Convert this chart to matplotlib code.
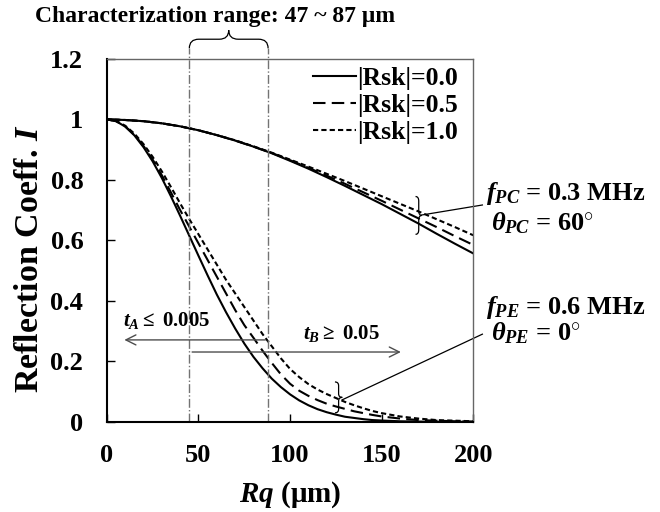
"""Reflection coefficient vs. Rq for two transducer settings."""

import matplotlib

matplotlib.use("Agg")
import matplotlib.pyplot as plt
from matplotlib.patches import PathPatch
from matplotlib.path import Path

plt.rcParams["font.family"] = ["Liberation Serif", "DejaVu Serif"]
plt.rcParams["font.weight"] = "bold"
plt.rcParams["axes.labelweight"] = "bold"
plt.rcParams["mathtext.fontset"] = "custom"
plt.rcParams["mathtext.rm"] = "Liberation Serif:bold"
plt.rcParams["mathtext.it"] = "Liberation Serif:italic:bold"
plt.rcParams["mathtext.bf"] = "Liberation Serif:bold"

# PC (f = 0.3 MHz, theta = 60 deg) curves, read every 10 um
rq_pc = [0, 10, 20, 30, 40, 50, 60, 70, 80, 90, 100,
         110, 120, 130, 140, 150, 160, 170, 180, 190, 200]
pc_rsk00 = [1.0, 0.998, 0.994, 0.987, 0.977, 0.964, 0.948, 0.930, 0.910, 0.888, 0.863,
            0.837, 0.809, 0.780, 0.750, 0.720, 0.688, 0.656, 0.622, 0.589, 0.557]
pc_rsk05 = [1.0, 0.998, 0.994, 0.987, 0.977, 0.964, 0.948, 0.930, 0.910, 0.889, 0.865,
            0.840, 0.814, 0.787, 0.759, 0.731, 0.702, 0.673, 0.644, 0.614, 0.585]
pc_rsk10 = [1.0, 0.998, 0.994, 0.987, 0.977, 0.964, 0.948, 0.931, 0.911, 0.890, 0.867,
            0.844, 0.820, 0.796, 0.771, 0.746, 0.721, 0.696, 0.670, 0.644, 0.617]

# PE (f = 0.6 MHz, theta = 0 deg) curves, read every 5 um up to 150
rq_pe = [0, 5, 10, 15, 20, 25, 30, 35, 40, 45, 50, 55, 60, 65, 70, 75, 80, 85, 90, 95,
         100, 105, 110, 115, 120, 125, 130, 135, 140, 145, 150, 160, 170, 180, 190, 200]
pe_rsk00 = [1.0, 0.994, 0.976, 0.947, 0.908, 0.861, 0.806, 0.745, 0.681, 0.615,
            0.549, 0.484, 0.421, 0.363, 0.309, 0.259, 0.215, 0.177, 0.143, 0.115,
            0.091, 0.071, 0.055, 0.042, 0.032, 0.024, 0.017, 0.013, 0.009, 0.006,
            0.0045, 0.002, 0.001, 0.0004, 0.0002, 0.0001]
pe_rsk05 = [1.0, 0.994, 0.977, 0.949, 0.912, 0.867, 0.815, 0.758, 0.700, 0.645,
            0.590, 0.535, 0.480, 0.425, 0.370, 0.320, 0.278, 0.235, 0.195, 0.157,
            0.126, 0.103, 0.086, 0.072, 0.060, 0.051, 0.043, 0.035, 0.029, 0.023,
            0.018, 0.011, 0.006, 0.004, 0.002, 0.001]
pe_rsk10 = [1.0, 0.995, 0.979, 0.953, 0.918, 0.876, 0.828, 0.776, 0.722, 0.670,
            0.620, 0.570, 0.520, 0.470, 0.425, 0.380, 0.335, 0.290, 0.250, 0.210,
            0.175, 0.148, 0.125, 0.107, 0.092, 0.079, 0.066, 0.055, 0.045, 0.036,
            0.029, 0.018, 0.011, 0.006, 0.004, 0.002]

rsk_labels = ["|Rsk|=0.0", "|Rsk|=0.5", "|Rsk|=1.0"]
range_lo, range_hi = 45, 88

x_ticks = [0, 50, 100, 150, 200]
y_ticks = [0, 0.2, 0.4, 0.6, 0.8, 1.0, 1.2]
y_tick_labels = ["0", "0.2", "0.4", "0.6", "0.8", "1", "1.2"]

styles = [
    {"linestyle": "-"},
    {"linestyle": (0, (6, 3))},
    {"linestyle": (0, (2.5, 1.5))},
]


def brace(ax, x0, x1, y0, y1, vertical=False):
    """Curly brace; horizontal one points up, vertical one points right."""
    if vertical:
        xm, ym, w = (x0 + x1) / 2, (y0 + y1) / 2, (y1 - y0) * 0.12
        verts = [(x0, y0), (xm, y0), (xm, y0 + w), (xm, ym - w), (xm, ym), (x1, ym),
                 (xm, ym), (xm, ym + w), (xm, y1 - w), (xm, y1), (x0, y1)]
    else:
        xm, ym, w = (x0 + x1) / 2, (y0 + y1) / 2, (x1 - x0) * 0.12
        verts = [(x0, y0), (x0, ym), (x0 + w, ym), (xm - w, ym), (xm, ym), (xm, y1),
                 (xm, ym), (xm + w, ym), (x1 - w, ym), (x1, ym), (x1, y0)]
    codes = [Path.MOVETO, Path.CURVE3, Path.CURVE3, Path.LINETO, Path.CURVE3, Path.CURVE3,
             Path.CURVE3, Path.CURVE3, Path.LINETO, Path.CURVE3, Path.CURVE3]
    ax.add_patch(PathPatch(Path(verts, codes), fill=False, lw=0.9, color="black",
                           clip_on=False))


fig = plt.figure(figsize=(6.6, 5.12), dpi=100)
ax = fig.add_axes([0.162, 0.176, 0.555, 0.709])

for vals, lab, st in zip([pc_rsk00, pc_rsk05, pc_rsk10], rsk_labels, styles):
    ax.plot(rq_pc, vals, color="black", lw=1.5, label=lab, **st)
for vals, st in zip([pe_rsk00, pe_rsk05, pe_rsk10], styles):
    ax.plot(rq_pe, vals, color="black", lw=1.5, **st)

ax.set_xlim(0, 200)
ax.set_ylim(0, 1.2)
ax.set_xticks(x_ticks)
ax.set_yticks(y_ticks)
ax.set_yticklabels(y_tick_labels)
ax.tick_params(direction="in", length=6, width=1, labelsize=19)
ax.tick_params(axis="x", pad=16)
ax.tick_params(axis="y", pad=17)
for side in ("left", "bottom"):
    ax.spines[side].set_linewidth(1.5)
for side in ("top", "right"):
    ax.spines[side].set_color("0.4")
    ax.spines[side].set_linewidth(1.0)

ax.set_xlabel("$Rq$ (μm)", fontsize=21, labelpad=9)
ax.set_ylabel("Reflection Coeff. $I$", fontsize=24.5)
ax.yaxis.set_label_coords(-0.168, 0.45)

# characterization range
for xv in (range_lo, range_hi):
    ax.plot([xv, xv], [0, 1.235], color="0.45", lw=1, linestyle="-.", clip_on=False)
brace(ax, range_lo, range_hi, 1.235, 1.295)
ax.text(-39.5, 1.34, "Characterization range: 47 ~ 87 μm", fontsize=17,
        ha="left", va="center")

leg = ax.legend(loc="upper right", bbox_to_anchor=(1.0, 1.02), frameon=False,
                fontsize=18.5, handlelength=1.65, handletextpad=0.05,
                labelspacing=0.16, borderaxespad=0.2)

# PC group
brace(ax, 168.5, 172, 0.62, 0.745, vertical=True)
ax.plot([172, 205], [0.684, 0.717], color="black", lw=0.9, clip_on=False)
ax.text(207, 0.755, "$f_{PC}$ = 0.3 MHz", fontsize=19, va="center", ha="left")
ax.text(209.5, 0.657, r"$\theta_{PC}$ = 60$^{\circ}$", fontsize=19, va="center", ha="left")

# PE group
brace(ax, 124.5, 128.5, 0.03, 0.132, vertical=True)
ax.plot([128.5, 205], [0.073, 0.29], color="black", lw=0.9, clip_on=False)
ax.text(207, 0.377, "$f_{PE}$ = 0.6 MHz", fontsize=19, va="center", ha="left")
ax.text(209.5, 0.294, r"$\theta_{PE}$ = 0$^{\circ}$", fontsize=19, va="center", ha="left")

# arrows for thresholds
ax.annotate("", xy=(8, 0.271), xytext=(range_hi, 0.271),
            arrowprops=dict(arrowstyle="->", color="0.3", lw=1, mutation_scale=18))
ax.annotate("", xy=(162, 0.231), xytext=(range_lo, 0.231),
            arrowprops=dict(arrowstyle="->", color="0.3", lw=1, mutation_scale=18))
ax.text(9, 0.335, r"$t_A \leq$ 0.005", fontsize=15, ha="left", va="center")
ax.text(107, 0.293, r"$t_B \geq$ 0.05", fontsize=15, ha="left", va="center")

fig.savefig("out.png", dpi=100)
